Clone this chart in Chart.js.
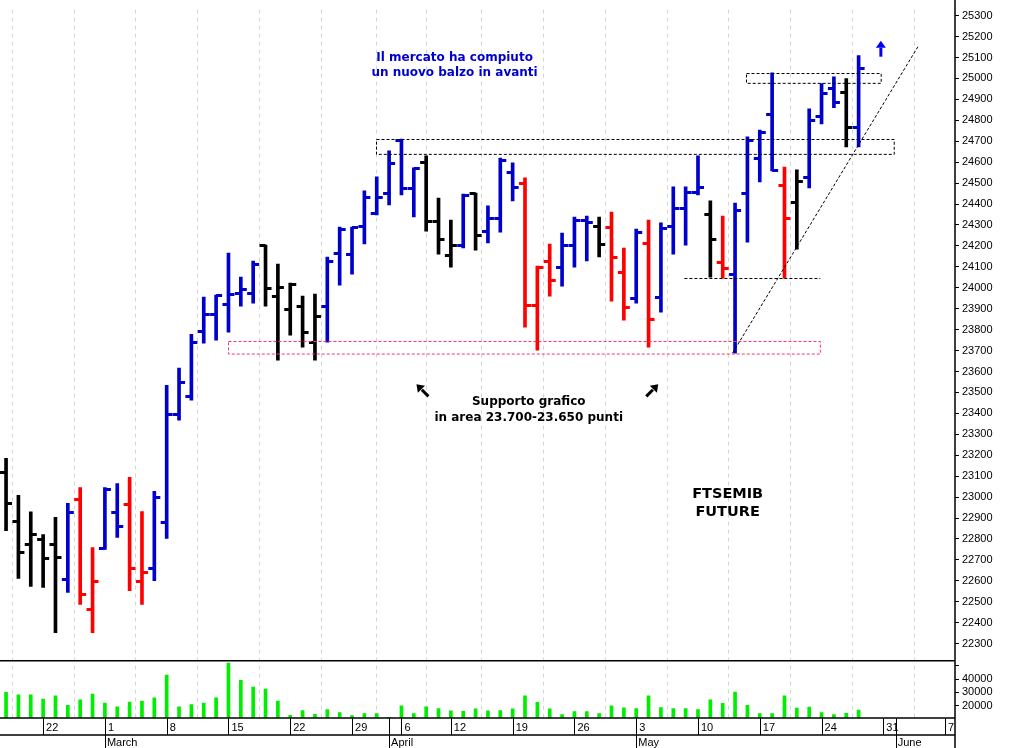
<!doctype html>
<html lang="it">
<head>
<meta charset="utf-8">
<title>FTSEMIB Future</title>
<script src="https://cdn.jsdelivr.net/npm/chart.js"></script>
<style>
  html, body { margin: 0; padding: 0; background: #fff; }
  #wrap { width: 1010px; height: 748px; }
</style>
</head>
<body>
<div id="wrap"><canvas id="grafico"></canvas></div>
<script>
// sedute (indice di barra) - 17 feb .. 27 mag, poi giorni futuri per l'asse
const dates = ['17/2','18/2','19/2','22/2','23/2','24/2','25/2','26/2','1/3','2/3','3/3','4/3','5/3',
  '8/3','9/3','10/3','11/3','12/3','15/3','16/3','17/3','18/3','19/3','22/3','23/3','24/3','25/3','26/3',
  '29/3','30/3','31/3','1/4','6/4','7/4','8/4','9/4','12/4','13/4','14/4','15/4','16/4',
  '19/4','20/4','21/4','22/4','23/4','26/4','27/4','28/4','29/4','30/4','3/5','4/5','5/5','6/5','7/5',
  '10/5','11/5','12/5','13/5','14/5','17/5','18/5','19/5','20/5','21/5','24/5','25/5','26/5','27/5'];

const opens  = [23120,22888,22778,22802,22778,22611,22989,22463,22755,22931,22965,22601,22659,22879,23396,23482,23793,23874,23922,23975,
  23975,24204,23960,23898,23912,23740,23912,24166,24161,24295,24357,24453,24706,24477,24601,24319,24156,24204,24453,24271,
  24333,24554,24501,23917,24128,24099,24204,24324,24295,24290,24075,23951,24214,23955,24295,24381,24458,24352,24123,24065,
  24453,24620,24831,24491,24410,24530,24821,24955,24937,24769];
const highs  = [23185,23008,22930,22821,22903,22970,23046,22759,23046,23065,23094,22931,23027,23534,23616,23778,23955,23965,24166,24051,
  24128,24204,24113,24022,23960,23970,24147,24290,24290,24463,24530,24654,24711,24573,24630,24429,24324,24448,24453,24391,
  24620,24597,24525,24104,24209,24261,24338,24343,24338,24362,24190,24281,24324,24310,24482,24482,24630,24415,24343,24405,
  24721,24754,25027,24577,24563,24855,24975,25008,25000,25109];
const lows   = [22840,22611,22573,22568,22352,22544,22487,22352,22750,22807,22553,22487,22601,22802,23367,23463,23735,23750,23788,23912,
  23927,23912,23654,23774,23716,23654,23740,24013,24065,24209,24348,24396,24444,24338,24271,24161,24099,24190,24180,24214,
  24266,24415,23812,23702,23960,24008,24099,24128,24147,23936,23845,23927,23716,23884,24161,24204,24444,24051,24046,23688,
  24218,24506,24558,24046,24185,24477,24783,24860,24673,24673];
const closes = [22970,22740,22826,22707,22716,22927,22539,22597,23037,22860,22659,22644,22999,23396,23549,23740,23874,23965,23970,23994,
  24113,23998,24003,24017,23788,23865,24128,24280,24290,24434,24434,24597,24477,24573,24319,24233,24204,24443,24252,24333,
  24611,24482,23917,24099,24037,24204,24324,24314,24209,24147,23908,24266,23850,24285,24381,24458,24482,24233,24094,24372,
  24706,24745,24563,24333,24510,24802,24932,24889,24769,25051];
// colore della barra: k nero, r rosso, b blu
const tones = 'kkkkkbrrbbrrbbbbbbbbbkkkkkbbbbbbbbkkkbkbbbrrrbbbkrrbrbbbbkrbbbbrkbbbkb'.split('');
const volumes = [30000,28200,28200,25100,27400,20300,24400,28700,22000,19200,22800,23600,25900,43000,19200,20800,22000,25900,52000,39200,
  34000,32500,23600,12800,16400,13600,17200,14900,12600,14100,14100,11300,20000,14100,19200,17900,16200,15900,17700,16200,
  16400,17700,27400,22600,17700,13300,15600,15600,14100,20000,18500,17900,27400,18700,17900,17900,17200,24400,21800,30300,
  20300,14100,14100,27400,18200,19000,14900,13300,14400,16700];

// asse orizzontale: primo giorno di ogni settimana e inizio mese
const weekIdx = [3, 8, 13, 18, 23, 28, 32, 36, 41, 46, 51, 56, 61, 66, 71, 76];
const weekLbl = ['22','1','8','15','22','29','6','12','19','26','3','10','17','24','31','7'];
const monthIdx = [8, 31, 51, 72];
const monthLbl = ['March', 'April', 'May', 'June'];
const priceTicks = [22300, 25300, 100];
const volTicks = [20000, 30000, 40000, 50000];

const colorOf = { k: '#000000', r: '#ff0000', b: '#0000cc' };
const idx = dates.map((d, i) => i);

const ohlcTicks = {
  id: 'ohlcTicks',
  afterDatasetsDraw(chart) {
    const { ctx, scales: { x, y } } = chart;
    ctx.save();
    ctx.lineWidth = 3;
    idx.forEach(i => {
      const px = x.getPixelForValue(i);
      ctx.strokeStyle = colorOf[tones[i]];
      ctx.beginPath();
      ctx.moveTo(px - 6, Math.round(y.getPixelForValue(opens[i])) + 0.5);
      ctx.lineTo(px, Math.round(y.getPixelForValue(opens[i])) + 0.5);
      ctx.moveTo(px, Math.round(y.getPixelForValue(closes[i])) + 0.5);
      ctx.lineTo(px + 6, Math.round(y.getPixelForValue(closes[i])) + 0.5);
      ctx.stroke();
    });
    ctx.restore();
  }
};

// rettangoli, linee e testi di commento (in unita' dei dati)
const boxes = [
  { x0: 18.0, x1: 65.9, y0: 23745, y1: 23685, color: '#ff3366' },
  { x0: 29.9, x1: 71.8, y0: 24711, y1: 24640, color: '#000' },
  { x0: 59.9, x1: 70.8, y0: 25027, y1: 24980, color: '#000' }
];
const notes = [
  { x: 36.3, y: 25125, lines: ['Il mercato ha compiuto', 'un nuovo balzo in avanti'], color: '#0000cc', size: 12, gap: 15 },
  { x: 42.3, y: 23482, lines: ['Supporto grafico', 'in area 23.700-23.650 punti'], color: '#000', size: 12, gap: 16 },
  { x: 58.4, y: 23050, lines: ['FTSEMIB', 'FUTURE'], color: '#000', size: 14.5, gap: 18 }
];

const extras = {
  id: 'extras',
  afterDraw(chart) {
    const { ctx, scales: { x, y, x2 } } = chart;
    const ca = chart.chartArea;
    const X = v => x.getPixelForValue(v), Y = v => y.getPixelForValue(v);
    ctx.save();
    ctx.lineWidth = 1;
    ctx.setLineDash([3, 2]);
    boxes.forEach(b => {
      ctx.strokeStyle = b.color;
      ctx.strokeRect(Math.round(X(b.x0)) + 0.5, Math.round(Y(b.y0)) + 0.5, X(b.x1) - X(b.x0), Y(b.y1) - Y(b.y0));
    });
    ctx.strokeStyle = '#000';
    ctx.beginPath();
    ctx.moveTo(X(54.9), Math.round(Y(24046)) + 0.5);
    ctx.lineTo(X(65.9), Math.round(Y(24046)) + 0.5);
    ctx.moveTo(X(58.8), Y(23688));
    ctx.lineTo(X(73.8), Y(25152));
    ctx.stroke();
    ctx.setLineDash([]);

    // frecce
    const arrow = (px, py, dx, dy, col) => {
      const len = Math.hypot(dx, dy), ux = dx / len, uy = dy / len;
      ctx.strokeStyle = col; ctx.fillStyle = col; ctx.lineWidth = 3;
      ctx.beginPath(); ctx.moveTo(px, py); ctx.lineTo(px + dx * 0.55, py + dy * 0.55); ctx.stroke();
      ctx.beginPath();
      ctx.moveTo(px + dx, py + dy);
      ctx.lineTo(px + dx - ux * 7 - uy * 5, py + dy - uy * 7 + ux * 5);
      ctx.lineTo(px + dx - ux * 7 + uy * 5, py + dy - uy * 7 - ux * 5);
      ctx.closePath(); ctx.fill();
    };
    arrow(X(70.8), Y(25104), 0, -16, '#0000ff');
    arrow(X(33.7) + 6, Y(23510) + 6, -12, -12, '#000');
    arrow(X(52.3) - 6, Y(23510) + 6, 12, -12, '#000');

    notes.forEach(n => {
      ctx.fillStyle = n.color;
      ctx.font = 'bold ' + n.size + 'px "DejaVu Sans", sans-serif';
      ctx.textAlign = 'center';
      ctx.textBaseline = 'top';
      n.lines.forEach((t, k) => ctx.fillText(t, X(n.x), Y(n.y) + k * n.gap));
    });

    // bordi dei pannelli e righe dell'asse
    const vol = chart.scales.yv;
    ctx.strokeStyle = '#000';
    ctx.lineWidth = 1.5;
    ctx.beginPath();
    ctx.moveTo(0, vol.top); ctx.lineTo(ca.right, vol.top);
    ctx.moveTo(0, ca.bottom); ctx.lineTo(ca.right, ca.bottom);
    ctx.moveTo(0, x2.top); ctx.lineTo(ca.right, x2.top);
    ctx.moveTo(ca.right, 0); ctx.lineTo(ca.right, x2.bottom);
    ctx.stroke();
    ctx.lineWidth = 1;
    ctx.beginPath();
    weekIdx.forEach(v => { const px = Math.round(X(v)) + 0.5; ctx.moveTo(px, ca.bottom); ctx.lineTo(px, x2.top); });
    monthIdx.forEach(v => { const px = Math.round(X(v)) + 0.5; ctx.moveTo(px, ca.bottom); ctx.lineTo(px, x2.bottom); });
    ctx.stroke();
    ctx.restore();
  }
};

const tickFont = { family: 'Liberation Sans', size: 11 };

new Chart(document.getElementById('grafico'), {
  data: {
    labels: dates,
    datasets: [
      {
        type: 'bar', label: 'FTSEMIB Future', xAxisID: 'x', yAxisID: 'y',
        data: idx.map(i => ({ x: i, y: [lows[i], highs[i]] })),
        backgroundColor: tones.map(t => colorOf[t]),
        barThickness: 3, grouped: false
      },
      {
        type: 'bar', label: 'Volume', xAxisID: 'x', yAxisID: 'yv',
        data: idx.map(i => ({ x: i, y: volumes[i] })),
        backgroundColor: '#00ee00', barThickness: 3, grouped: false
      }
    ]
  },
  options: {
    responsive: true, maintainAspectRatio: false, animation: false,
    layout: { padding: 0 },
    plugins: { legend: { display: false }, tooltip: { enabled: false } },
    scales: {
      x: {
        type: 'linear', position: 'bottom', min: -0.49, max: 76.8, offset: false,
        afterBuildTicks: ax => { ax.ticks = weekIdx.map(v => ({ value: v })); },
        afterFit: ax => { ax.height = 17; },
        ticks: { callback: v => weekLbl[weekIdx.indexOf(v)], maxRotation: 0, autoSkip: false, align: 'start', labelOffset: 3, padding: 3,
                 color: '#000', font: tickFont },
        grid: { color: '#d4d4dc', drawTicks: false },
        border: { display: false, dash: [4, 4] }
      },
      x2: {
        type: 'linear', position: 'bottom', min: -0.49, max: 76.8, offset: false,
        afterBuildTicks: ax => { ax.ticks = monthIdx.map(v => ({ value: v })); },
        afterFit: ax => { ax.height = 13; },
        ticks: { callback: v => monthLbl[monthIdx.indexOf(v)], maxRotation: 0, autoSkip: false, align: 'start', labelOffset: 2, padding: 1,
                 color: '#000', font: tickFont },
        grid: { drawOnChartArea: false, drawTicks: false },
        border: { display: false }
      },
      y: {
        type: 'linear', position: 'right', stack: 'pannelli', stackWeight: 660, offset: false,
        min: 22218, max: 25329,
        afterBuildTicks: ax => {
          const t = [];
          for (let v = priceTicks[0]; v <= priceTicks[1]; v += priceTicks[2]) t.push({ value: v });
          ax.ticks = t;
        },
        afterFit: ax => { ax.width = 55; },
        ticks: { color: '#000', padding: 3, autoSkip: false, callback: v => String(v), font: tickFont },
        grid: { drawOnChartArea: false, tickLength: 4, color: '#000' },
        border: { display: false }
      },
      yv: {
        type: 'linear', position: 'right', stack: 'pannelli', stackWeight: 58, offset: false,
        min: 10800, max: 53800,
        afterBuildTicks: ax => { ax.ticks = volTicks.map(v => ({ value: v })); },
        afterFit: ax => { ax.width = 55; },
        ticks: { color: '#000', padding: 3, autoSkip: false, callback: v => v === 50000 ? '' : String(v), font: tickFont },
        grid: { drawOnChartArea: false, tickLength: 4, color: '#000' },
        border: { display: false }
      }
    }
  },
  plugins: [ohlcTicks, extras]
});
</script>
</body>
</html>
